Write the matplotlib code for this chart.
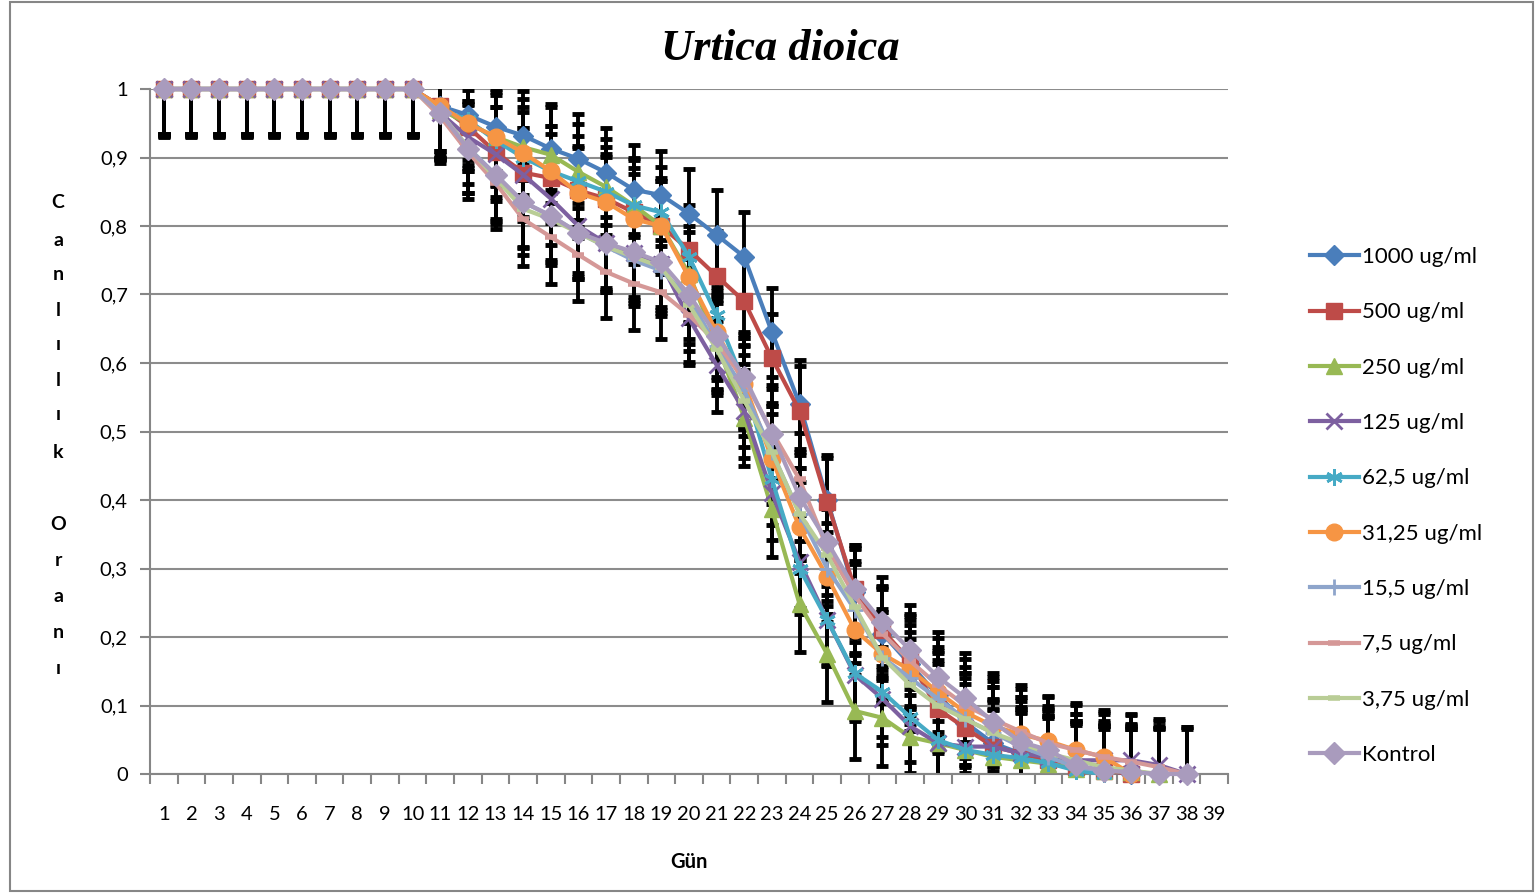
import numpy as np
import matplotlib
matplotlib.use('Agg')
import matplotlib.pyplot as plt
from matplotlib.patches import Rectangle

plt.rcParams['font.family'] = ['Lato', 'DejaVu Sans']

days = list(range(1, 40))
start = [1.0]*10

# survival ratio per concentration, day 1 onwards
s1000 = start + [0.975, 0.962, 0.945, 0.932, 0.913, 0.898, 0.878, 0.853, 0.845, 0.818,
                 0.787, 0.755, 0.645, 0.54, 0.40, 0.265, 0.205, 0.16, 0.115, 0.075,
                 0.045, 0.03, 0.02, 0.01, 0.005, 0.0]
s500 = start + [0.975, 0.945, 0.908, 0.878, 0.87, 0.852, 0.84, 0.82, 0.80, 0.765,
                0.727, 0.69, 0.607, 0.53, 0.397, 0.27, 0.21, 0.165, 0.095, 0.067,
                0.04, 0.03, 0.02, 0.01, 0.005, 0.0]
s250 = start + [0.97, 0.95, 0.93, 0.915, 0.904, 0.879, 0.857, 0.83, 0.80, 0.73,
                0.63, 0.52, 0.387, 0.248, 0.175, 0.092, 0.082, 0.054, 0.045, 0.035,
                0.025, 0.02, 0.015, 0.008, 0.005, 0.003, 0.0]
s125 = start + [0.965, 0.93, 0.905, 0.875, 0.84, 0.80, 0.775, 0.76, 0.745, 0.665,
                0.597, 0.53, 0.41, 0.31, 0.225, 0.145, 0.11, 0.07, 0.045, 0.04,
                0.04, 0.03, 0.025, 0.02, 0.02, 0.02, 0.013, 0.0]
s62 = start + [0.97, 0.955, 0.925, 0.9, 0.88, 0.865, 0.85, 0.83, 0.82, 0.755,
               0.67, 0.57, 0.43, 0.30, 0.225, 0.147, 0.12, 0.083, 0.05, 0.035,
               0.028, 0.023, 0.016, 0.005, 0.0]
s31 = start + [0.975, 0.95, 0.93, 0.907, 0.88, 0.848, 0.835, 0.81, 0.80, 0.725,
               0.645, 0.57, 0.46, 0.36, 0.288, 0.21, 0.175, 0.152, 0.12, 0.09,
               0.07, 0.058, 0.048, 0.035, 0.025, 0.0]
s15 = start + [0.965, 0.915, 0.875, 0.835, 0.815, 0.79, 0.77, 0.75, 0.735, 0.695,
               0.625, 0.56, 0.47, 0.38, 0.30, 0.24, 0.17, 0.14, 0.11, 0.08,
               0.06, 0.04, 0.025, 0.01, 0.005, 0.003, 0.0]
s7 = start + [0.96, 0.908, 0.863, 0.81, 0.784, 0.758, 0.733, 0.716, 0.703, 0.67,
              0.63, 0.575, 0.50, 0.43, 0.33, 0.26, 0.205, 0.165, 0.13, 0.10,
              0.08, 0.062, 0.045, 0.035, 0.025, 0.018, 0.01, 0.0]
s3 = start + [0.965, 0.915, 0.87, 0.825, 0.81, 0.79, 0.77, 0.755, 0.74, 0.685,
              0.62, 0.545, 0.47, 0.38, 0.32, 0.244, 0.17, 0.13, 0.10, 0.08,
              0.06, 0.045, 0.03, 0.02, 0.01, 0.005, 0.0]
kontrol = start + [0.965, 0.913, 0.875, 0.835, 0.815, 0.79, 0.775, 0.762, 0.747, 0.70,
                   0.64, 0.58, 0.497, 0.405, 0.339, 0.27, 0.222, 0.181, 0.142, 0.111,
                   0.076, 0.047, 0.035, 0.013, 0.005, 0.003, 0.0, 0.0]

# error bar half-widths per series
errs = [0.065, 0.065, 0.07, 0.068, 0.066, 0.066, 0.067, 0.068, 0.067, 0.065]

labels = ['1000 ug/ml', '500 ug/ml', '250 ug/ml', '125 ug/ml', '62,5 ug/ml',
          '31,25 ug/ml', '15,5 ug/ml', '7,5 ug/ml', '3,75 ug/ml', 'Kontrol']
series = [s1000, s500, s250, s125, s62, s31, s15, s7, s3, kontrol]
colors = ['#4A7EBB', '#BE4B48', '#98B954', '#7D60A0', '#46AAC5',
          '#F69544', '#8EA5CB', '#D59897', '#B9CD96', '#A99BBD']
markers = ['D', 's', '^', 'x', (6, 2, 0), 'o', '+', '_', '_', 'D']
msizes = [10, 11.5, 11, 11, 12, 12, 12, 9, 9, 11]

fig = plt.figure(figsize=(15.36, 8.93), dpi=100)
ax = fig.add_axes([150/1536, 119/893, 1078/1536, 685/893])

for s, e in zip(series, errs):
    x = days[:len(s)]
    ax.errorbar(x, s, yerr=e, fmt='none', ecolor='black', elinewidth=2.8,
                capsize=4.5, capthick=3.5, zorder=2)

for i, s in enumerate(series):
    x = days[:len(s)]
    mew = 2.0 if markers[i] in ('x', '+') or isinstance(markers[i], tuple) else 1
    if markers[i] == '_':
        mew = 4
    ax.plot(x, s, color=colors[i], lw=3.0, marker=markers[i], ms=msizes[i],
            mew=mew, mec=colors[i], label=labels[i], zorder=3+i, clip_on=False)

ax.set_xlim(0.5, 39.5)
ax.set_ylim(0, 1)
ax.set_xticks(days)
ax.set_xticklabels([str(d) for d in days], fontsize=14.5)
ax.set_xticks(np.arange(0.5, 40, 1), minor=True)
ax.tick_params(axis='x', which='major', length=0, pad=23)
ax.tick_params(axis='x', which='minor', length=7, width=1.5, color='#868686')
ax.set_yticks(np.arange(0, 1.01, 0.1))
ax.set_yticklabels(['0', '0,1', '0,2', '0,3', '0,4', '0,5', '0,6', '0,7', '0,8', '0,9', '1'],
                   fontsize=14.5)
ax.tick_params(axis='y', length=7, width=1.5, color='#868686', pad=9)
ax.grid(axis='y', color='#8c8c8c', lw=1.5)
ax.set_axisbelow(True)
for side in ['top', 'right']:
    ax.spines[side].set_visible(False)
for side in ['left', 'bottom']:
    ax.spines[side].set_color('#868686')
    ax.spines[side].set_linewidth(1.5)

fig.text(780/1536, 1 - 49/893, 'Urtica dioica', ha='center', va='center',
         fontsize=32, fontweight='bold', fontstyle='italic', family='Liberation Serif')
fig.text(689/1536, 1 - 862/893, 'Gün', ha='center', va='center',
         fontsize=14.5, fontweight='bold')

ylab = 'CanlılıkOranı'
ypos = [203, 240, 275, 310, 345, 380, 415, 452, 524, 560, 596, 632, 668]
for ch, yp in zip(ylab, ypos):
    fig.text(58/1536, 1 - yp/893, ch, ha='center', va='center',
             fontsize=14, fontweight='bold')

fig.legend(loc='upper left', bbox_to_anchor=(1290/1536, 1 - 227/893), frameon=False,
           fontsize=16, handlelength=2.2, handletextpad=0.12, labelspacing=1.59,
           numpoints=1)

fig.patches.append(Rectangle((10/1536, 2/893), 1523/1536, 889/893, transform=fig.transFigure,
                             fill=False, edgecolor='#868686', lw=1.5))

plt.savefig('out.png', dpi=100)
